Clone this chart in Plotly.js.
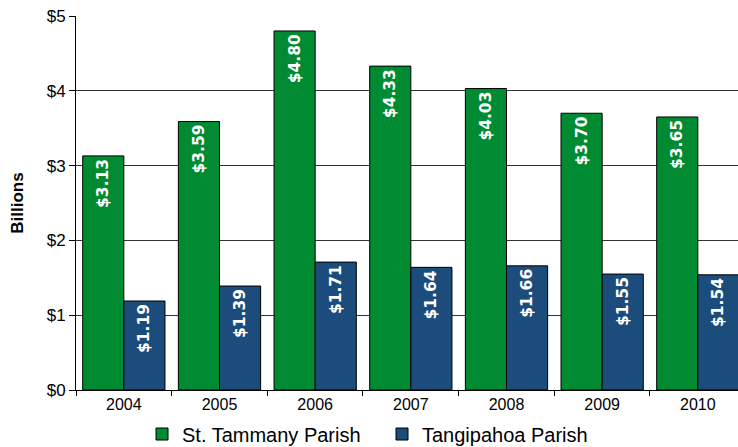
<!DOCTYPE html>
<html><head><meta charset="utf-8">
<script src="https://cdn.plot.ly/plotly-3.0.1.min.js"></script>
<style>html,body{margin:0;padding:0;background:#fff}#chart{width:738px;height:447px}</style>
</head><body><div id="chart"></div>
<script>
const years = ['2004','2005','2006','2007','2008','2009','2010'];
const stTammany = [3.13, 3.59, 4.80, 4.33, 4.03, 3.70, 3.65];
const tangipahoa = [1.19, 1.39, 1.71, 1.64, 1.66, 1.55, 1.54];
const seriesNames = ['St. Tammany Parish', 'Tangipahoa Parish'];
const yTickVals = [0, 1, 2, 3, 4, 5];
const yTickText = ['$0', '$1', '$2', '$3', '$4', '$5'];

function fmt(v){ return '$' + v.toFixed(2); }
const labelFont = {family: 'DejaVu Sans', size: 15.5, color: '#fff', weight: 'bold'};

const traces = [
  {type:'bar', name: seriesNames[0], x: years, y: stTammany, legend:'legend',
   marker:{color:'#008A32', line:{color:'#000', width:1}},
   text: stTammany.map(fmt), textposition:'inside', insidetextanchor:'end', textangle:-90,
   textfont: labelFont, constraintext:'none', hoverinfo:'none'},
  {type:'bar', name: seriesNames[1], x: years, y: tangipahoa, legend:'legend2',
   marker:{color:'#1B4C7C', line:{color:'#000', width:1}},
   text: tangipahoa.map(fmt), textposition:'inside', insidetextanchor:'end', textangle:-90,
   textfont: labelFont, constraintext:'none', hoverinfo:'none'}
];

const legendFont = {size:20, color:'#000', family:'Liberation Sans, Arial, sans-serif'};
const layout = {
  width:738, height:447,
  margin:{l:76, r:0, t:16, b:57, autoexpand:false},
  paper_bgcolor:'#fff', plot_bgcolor:'#fff',
  barmode:'group', bargap:0.14, bargroupgap:0,
  font:{family:'Liberation Sans, Arial, sans-serif', color:'#000', size:16},
  xaxis:{type:'category', range:[-0.5, 6.42], showline:true, linecolor:'#000', linewidth:1,
    ticks:'outside', tickson:'boundaries', ticklen:5, tickcolor:'#000',
    tickfont:{size:16, color:'#000'}, showgrid:false, zeroline:false, fixedrange:true},
  yaxis:{range:[0,5], tickvals:yTickVals, ticktext:yTickText, showline:true, linecolor:'#000', linewidth:1,
    ticks:'outside', ticklen:6, tickcolor:'#000', tickfont:{size:17, color:'#000'},
    showgrid:true, gridcolor:'#333', gridwidth:1, zeroline:false,
    title:{text:'<b>Billions</b>', font:{size:17, color:'#000'}, standoff:18}},
  legend:{orientation:'h', xref:'container', yref:'container', x:142/738, xanchor:'left',
    y:1-434/447, yanchor:'middle', font:legendFont, bgcolor:'rgba(0,0,0,0)'},
  legend2:{orientation:'h', xref:'container', yref:'container', x:382/738, xanchor:'left',
    y:1-434/447, yanchor:'middle', font:legendFont, bgcolor:'rgba(0,0,0,0)'},
  showlegend:true
};
Plotly.newPlot('chart', traces, layout, {displayModeBar:false, staticPlot:true});
</script></body></html>
